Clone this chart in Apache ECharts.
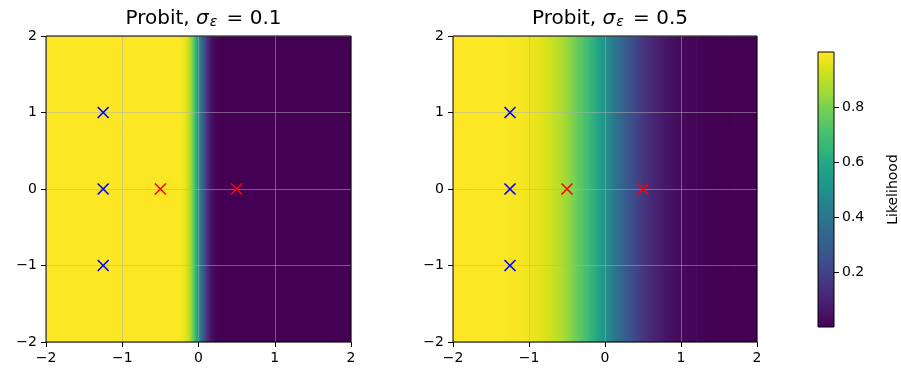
<!DOCTYPE html>
<html>
<head>
<meta charset="utf-8">
<script src="https://cdn.jsdelivr.net/npm/echarts@6/dist/echarts.min.js"></script>
<style>
  html, body { margin: 0; padding: 0; background: #ffffff; }
  #chart { width: 901px; height: 376px; }
</style>
</head>
<body>
<div id="chart"></div>
<script>
// ---- data ----
const axisTicks = [-2, -1, 0, 1, 2];
const colorbarTicks = [0.2, 0.4, 0.6, 0.8];
const noiseLevels = ['0.1', '0.5'];

const positivePoints = [[-1.25, 1], [-1.25, 0], [-1.25, -1]];
const negativePoints = [[-0.5, 0], [0.5, 0]];

// likelihood along x (constant along y), sigma = 0.1
const xNarrow = [-2, -0.3, -0.275, -0.25, -0.225, -0.2, -0.175, -0.15, -0.125, -0.1, -0.075, -0.05, -0.025,
  0, 0.025, 0.05, 0.075, 0.1, 0.125, 0.15, 0.175, 0.2, 0.225, 0.25, 0.275, 0.3, 2];
const likNarrow = [1.0, 0.999, 0.997, 0.994, 0.988, 0.977, 0.960, 0.933, 0.894, 0.841, 0.773, 0.692, 0.599,
  0.5, 0.401, 0.308, 0.227, 0.159, 0.106, 0.067, 0.040, 0.023, 0.012, 0.006, 0.003, 0.001, 0.0];

// likelihood along x (constant along y), sigma = 0.5
const xWide = [-2, -1.9, -1.8, -1.7, -1.6, -1.5, -1.4, -1.3, -1.2, -1.1, -1.0, -0.9, -0.8, -0.7, -0.6, -0.5,
  -0.4, -0.3, -0.2, -0.1, 0, 0.1, 0.2, 0.3, 0.4, 0.5, 0.6, 0.7, 0.8, 0.9, 1.0, 1.1, 1.2, 1.3, 1.4, 1.5,
  1.6, 1.7, 1.8, 1.9, 2];
const likWide = [1.0, 1.0, 1.0, 1.0, 0.999, 0.999, 0.997, 0.995, 0.992, 0.986, 0.977, 0.964, 0.945, 0.919,
  0.885, 0.841, 0.788, 0.726, 0.655, 0.579, 0.5, 0.421, 0.345, 0.274, 0.212, 0.159, 0.115, 0.081, 0.055,
  0.036, 0.023, 0.014, 0.008, 0.005, 0.003, 0.001, 0.001, 0.0, 0.0, 0.0, 0.0];

// ---- colormap (viridis) ----
const viridisStops = ['#440154', '#471365', '#482475', '#46337f', '#414487', '#3b528b', '#355f8d',
  '#31688e', '#2a788e', '#26828e', '#21918c', '#1f9e89', '#22a884', '#35b779', '#44bf70', '#5ec962',
  '#7ad151', '#a0da39', '#bddf26', '#dfe318', '#fde725'];

function hexToRgb(h) {
  return [parseInt(h.slice(1, 3), 16), parseInt(h.slice(3, 5), 16), parseInt(h.slice(5, 7), 16)];
}
const viridisRgb = viridisStops.map(hexToRgb);

const allValues = likNarrow.concat(likWide);
const vMin = Math.min.apply(null, allValues);
const vMax = Math.max.apply(null, allValues);

function viridis(v) {
  let t = (v - vMin) / (vMax - vMin);
  t = Math.max(0, Math.min(1, t));
  const pos = t * (viridisRgb.length - 1);
  const i = Math.min(Math.floor(pos), viridisRgb.length - 2);
  const f = pos - i;
  const a = viridisRgb[i], b = viridisRgb[i + 1];
  const c = [0, 1, 2].map(k => Math.round(a[k] + (b[k] - a[k]) * f));
  return 'rgb(' + c.join(',') + ')';
}

function segments(xs, vs) {
  const out = [];
  for (let i = 0; i < xs.length - 1; i++) out.push([xs[i], xs[i + 1], vs[i], vs[i + 1]]);
  return out;
}

const yLo = axisTicks[0], yHi = axisTicks[axisTicks.length - 1];

function renderStrip(params, api) {
  const last = params.dataIndex === params.dataInsideLength - 1;
  const pA = api.coord([api.value(0), yHi]);
  const pB = api.coord([api.value(1), yLo]);
  return {
    type: 'rect',
    silent: true,
    shape: { x: pA[0], y: pA[1], width: pB[0] - pA[0] + (last ? 0 : 0.7), height: pB[1] - pA[1] },
    style: {
      fill: new echarts.graphic.LinearGradient(0, 0, 1, 0, [
        { offset: 0, color: viridis(api.value(2)) },
        { offset: 1, color: viridis(api.value(3)) }
      ])
    }
  };
}

function renderColorbar(params, api) {
  const pA = api.coord([0, api.value(1)]);
  const pB = api.coord([1, api.value(0)]);
  const stops = viridisStops.map((c, i) => ({ offset: 1 - i / (viridisStops.length - 1), color: c }));
  return {
    type: 'rect',
    silent: true,
    shape: { x: pA[0], y: pA[1], width: pB[0] - pA[0], height: pB[1] - pA[1] },
    style: { fill: new echarts.graphic.LinearGradient(0, 0, 0, 1, stops) }
  };
}

// ---- layout ----
const FONT = 'DejaVu Sans';
const panels = [
  { left: 46, top: 36, width: 305, height: 306 },
  { left: 453, top: 36, width: 304, height: 306 }
];
const minus = v => String(v).replace('-', '\u2212');

const chart = echarts.init(document.getElementById('chart'), null, { renderer: 'canvas' });

const grids = panels.map(p => ({
  left: p.left, top: p.top, width: p.width, height: p.height,
  show: true, borderColor: '#000', borderWidth: 1, backgroundColor: 'transparent', z: 6
}));
grids.push({ left: 818, top: 52, width: 16, height: 275, show: true, borderColor: '#000', borderWidth: 1,
  backgroundColor: 'transparent', z: 6 });

function valueAxis(gridIndex) {
  return {
    type: 'value', gridIndex: gridIndex, min: yLo, max: yHi, interval: 1, z: 5,
    axisLine: { show: false, onZero: false },
    axisTick: { show: true, inside: false, length: 5, lineStyle: { color: '#000', width: 1 } },
    axisLabel: { show: true, margin: 9, color: '#000', fontFamily: FONT, fontSize: 14, formatter: minus },
    splitLine: { show: true, lineStyle: { color: 'rgba(176,176,176,0.5)', width: 1 } }
  };
}

const xAxes = [valueAxis(0), valueAxis(1),
  { type: 'value', gridIndex: 2, min: 0, max: 1, show: false }];
const yAxes = [valueAxis(0), valueAxis(1),
  {
    type: 'value', gridIndex: 2, position: 'right', min: 0, max: 1, interval: 0.2, z: 5,
    axisLine: { show: false, onZero: false },
    axisTick: { show: true, inside: false, length: 5, customValues: colorbarTicks,
      lineStyle: { color: '#000', width: 1 } },
    axisLabel: { show: true, margin: 8, color: '#000', fontFamily: FONT, fontSize: 14,
      customValues: colorbarTicks, formatter: v => v.toFixed(1) },
    splitLine: { show: false },
    name: 'Likelihood', nameLocation: 'middle', nameRotate: 90, nameGap: 52,
    nameTextStyle: { color: '#000', fontFamily: FONT, fontSize: 14 }
  }];

const titles = panels.map((p, i) => ({
  text: '{a|Probit, }{g|σ}{s|ε}{a| = ' + noiseLevels[i] + '}',
  left: p.left + p.width / 2, top: 3, textAlign: 'center',
  textStyle: {
    fontWeight: 'normal',
    rich: {
      a: { fontFamily: FONT, fontSize: 20, fontWeight: 'normal', color: '#000' },
      g: { fontFamily: FONT, fontSize: 20, fontWeight: 'normal', fontStyle: 'italic', color: '#000' },
      s: { fontFamily: FONT, fontSize: 14, fontWeight: 'normal', fontStyle: 'italic', color: '#000',
        verticalAlign: 'bottom', padding: [7, 3, 0, 1] }
    }
  }
}));

const crossSymbol = 'path://M0,0L10,10M10,0L0,10';
function crosses(points, color, idx) {
  return {
    type: 'scatter', xAxisIndex: idx, yAxisIndex: idx, data: points, z: 20,
    symbol: crossSymbol, symbolSize: 11, silent: true,
    itemStyle: { color: 'none', borderColor: color, borderWidth: 1.6, opacity: 1 }
  };
}

const series = [
  { type: 'custom', xAxisIndex: 0, yAxisIndex: 0, data: segments(xNarrow, likNarrow), renderItem: renderStrip, z: 1, silent: true },
  { type: 'custom', xAxisIndex: 1, yAxisIndex: 1, data: segments(xWide, likWide), renderItem: renderStrip, z: 1, silent: true },
  crosses(positivePoints, '#0000ff', 0), crosses(negativePoints, '#ff0000', 0),
  crosses(positivePoints, '#0000ff', 1), crosses(negativePoints, '#ff0000', 1),
  { type: 'custom', xAxisIndex: 2, yAxisIndex: 2, data: [[vMin, vMax]], renderItem: renderColorbar, z: 1, silent: true }
];

chart.setOption({
  animation: false,
  backgroundColor: '#ffffff',
  title: titles,
  grid: grids,
  xAxis: xAxes,
  yAxis: yAxes,
  series: series
});
</script>
</body>
</html>
